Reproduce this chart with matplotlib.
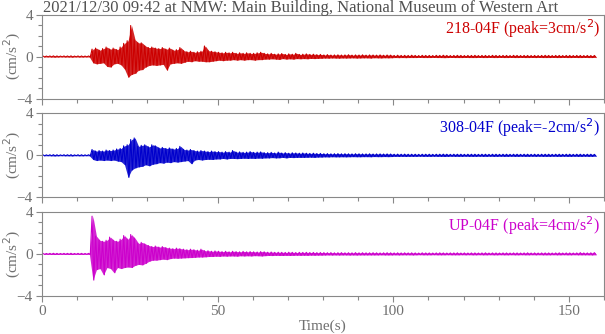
import numpy as np
import matplotlib
matplotlib.use("Agg")
import matplotlib.pyplot as plt
from matplotlib.ticker import MultipleLocator, FixedLocator

plt.rcParams['font.family'] = ['Liberation Serif', 'DejaVu Serif']

title = "2021/12/30 09:42 at NMW: Main Building, National Museum of Western Art"
channels = ["218-04F", "308-04F", "UP-04F"]
peaks = [3, -2, 4]
colors = ["#cc0000", "#0000cc", "#cc00cc"]

# Per-second envelope (max / min), t = 0..158 s
pre = [0.05, 0.04, 0.05, 0.06, 0.05, 0.04, 0.05, 0.05, 0.06, 0.04, 0.05, 0.05, 0.04, 0.05]
pre_n = [-v for v in pre]

red_max = pre + [
    0.7, 0.8, 0.6, 0.75, 0.9, 0.7, 0.8, 0.65, 0.9, 1.25,
    1.5, 2.95, 1.6, 1.3, 1.3, 1.0, 0.85, 0.9, 0.8, 0.75,
    0.85, 0.7, 0.8, 0.6, 0.65, 0.85, 0.55, 0.45, 0.5, 0.4,
    0.45, 0.5, 1.0, 0.55, 0.5, 0.45, 0.4, 0.35, 0.4, 0.35,
    0.4, 0.3, 0.35, 0.3, 0.35, 0.3, 0.3, 0.35, 0.4, 0.3,
    0.25, 0.3, 0.22, 0.25, 0.28, 0.2, 0.25, 0.22, 0.3, 0.2,
    0.22, 0.25, 0.2, 0.22, 0.18, 0.2,
    0.15, 0.18, 0.14, 0.15, 0.16, 0.14, 0.15, 0.17, 0.13, 0.15,
    0.14, 0.16, 0.13, 0.15, 0.14, 0.13, 0.15, 0.12, 0.14, 0.13,
    0.1, 0.12, 0.1, 0.11, 0.1, 0.12, 0.1, 0.09, 0.11, 0.1,
    0.1, 0.09, 0.11, 0.1, 0.12, 0.1, 0.09, 0.1, 0.11, 0.1,
    0.09, 0.1, 0.1, 0.11, 0.09, 0.1, 0.1, 0.09, 0.11, 0.1,
    0.09, 0.1, 0.1, 0.09, 0.11, 0.1, 0.09, 0.1, 0.1, 0.09,
    0.1, 0.09, 0.1, 0.11, 0.1, 0.09, 0.1, 0.1, 0.09, 0.1,
    0.1, 0.09, 0.1, 0.1, 0.09, 0.1, 0.09, 0.1]
red_min = pre_n + [
    -0.6, -0.7, -0.65, -0.6, -0.95, -1.0, -0.7, -0.65, -0.8, -1.2,
    -1.97, -1.7, -1.6, -1.3, -1.25, -1.0, -0.85, -0.8, -0.85, -0.8,
    -0.75, -1.3, -0.7, -0.65, -0.6, -0.65, -0.55, -0.45, -0.5, -0.4,
    -0.45, -0.45, -0.5, -0.5, -0.45, -0.4, -0.35, -0.4, -0.35, -0.35,
    -0.3, -0.35, -0.3, -0.35, -0.3, -0.3, -0.35, -0.3, -0.3, -0.25,
    -0.25, -0.22, -0.25, -0.28, -0.2, -0.25, -0.22, -0.25, -0.2, -0.22,
    -0.2, -0.22, -0.18, -0.2, -0.18, -0.17,
    -0.15, -0.16, -0.14, -0.15, -0.16, -0.14, -0.15, -0.14, -0.13, -0.15,
    -0.14, -0.13, -0.13, -0.15, -0.12, -0.13, -0.14, -0.12, -0.13, -0.12,
    -0.1, -0.11, -0.1, -0.11, -0.1, -0.1, -0.1, -0.09, -0.1, -0.1,
    -0.1, -0.09, -0.1, -0.1, -0.11, -0.1, -0.09, -0.1, -0.1, -0.1,
    -0.09, -0.1, -0.1, -0.1, -0.09, -0.1, -0.1, -0.09, -0.1, -0.1,
    -0.09, -0.1, -0.1, -0.09, -0.1, -0.1, -0.09, -0.1, -0.1, -0.09,
    -0.1, -0.09, -0.1, -0.1, -0.1, -0.09, -0.1, -0.1, -0.09, -0.1,
    -0.1, -0.09, -0.1, -0.1, -0.09, -0.1, -0.1, -0.09]

blue_max = pre + [
    0.55, 0.4, 0.45, 0.4, 0.5, 0.45, 0.5, 0.6, 0.65, 0.9,
    1.0, 1.5, 1.65, 0.85, 0.95, 1.0, 0.8, 1.0, 0.9, 0.7,
    0.75, 0.65, 0.7, 0.6, 0.65, 0.85, 0.55, 0.5, 0.55, 0.45,
    0.4, 0.45, 0.4, 0.35, 0.4, 0.35, 0.35, 0.3, 0.35, 0.3,
    0.45, 0.3, 0.32, 0.28, 0.3, 0.35, 0.28, 0.3, 0.32, 0.25,
    0.25, 0.28, 0.22, 0.3, 0.22, 0.25, 0.2, 0.24, 0.22, 0.2,
    0.22, 0.2, 0.18, 0.2, 0.17, 0.18,
    0.15, 0.16, 0.14, 0.15, 0.16, 0.14, 0.15, 0.14, 0.13, 0.15,
    0.14, 0.13, 0.13, 0.14, 0.12, 0.13, 0.13, 0.12, 0.13, 0.12,
    0.1, 0.11, 0.1, 0.11, 0.1, 0.1, 0.1, 0.09, 0.1, 0.1,
    0.1, 0.09, 0.1, 0.1, 0.11, 0.1, 0.09, 0.1, 0.1, 0.1,
    0.09, 0.1, 0.1, 0.1, 0.09, 0.1, 0.1, 0.09, 0.1, 0.1,
    0.09, 0.1, 0.1, 0.09, 0.1, 0.1, 0.09, 0.1, 0.1, 0.09,
    0.1, 0.09, 0.1, 0.1, 0.1, 0.09, 0.1, 0.1, 0.09, 0.1,
    0.1, 0.09, 0.1, 0.1, 0.09, 0.1, 0.1, 0.09]
blue_min = pre_n + [
    -0.4, -0.5, -0.45, -0.5, -0.45, -0.5, -0.45, -0.55, -0.6, -0.9,
    -2.1, -1.4, -1.2, -1.1, -1.05, -0.9, -1.0, -0.85, -0.8, -0.7,
    -0.75, -0.65, -0.7, -0.6, -0.65, -0.6, -0.55, -0.5, -0.8, -0.45,
    -0.4, -0.45, -0.4, -0.38, -0.4, -0.35, -0.35, -0.3, -0.35, -0.3,
    -0.3, -0.32, -0.3, -0.28, -0.3, -0.28, -0.3, -0.27, -0.28, -0.25,
    -0.25, -0.22, -0.25, -0.24, -0.2, -0.25, -0.2, -0.22, -0.2, -0.2,
    -0.2, -0.19, -0.18, -0.2, -0.17, -0.17,
    -0.15, -0.16, -0.14, -0.15, -0.15, -0.14, -0.15, -0.14, -0.13, -0.14,
    -0.14, -0.13, -0.13, -0.14, -0.12, -0.13, -0.13, -0.12, -0.13, -0.12,
    -0.1, -0.11, -0.1, -0.11, -0.1, -0.1, -0.1, -0.09, -0.1, -0.1,
    -0.1, -0.09, -0.1, -0.1, -0.11, -0.1, -0.09, -0.1, -0.1, -0.1,
    -0.09, -0.1, -0.1, -0.1, -0.09, -0.1, -0.1, -0.09, -0.1, -0.1,
    -0.09, -0.1, -0.1, -0.09, -0.1, -0.1, -0.09, -0.1, -0.1, -0.09,
    -0.1, -0.09, -0.1, -0.1, -0.1, -0.09, -0.1, -0.1, -0.09, -0.1,
    -0.1, -0.09, -0.1, -0.1, -0.09, -0.1, -0.1, -0.09]

mag_max = pre + [
    3.6, 1.7, 1.3, 1.2, 1.3, 1.6, 1.3, 1.2, 1.4, 1.75,
    1.4, 1.85, 1.5, 1.0, 1.1, 0.95, 0.8, 0.7, 0.75, 0.65,
    0.7, 0.6, 0.55, 0.5, 0.55, 0.5, 0.45, 0.4, 0.45, 0.4,
    0.35, 0.45, 0.3, 0.3, 0.25, 0.28, 0.25, 0.22, 0.25, 0.2,
    0.25, 0.22, 0.2, 0.24, 0.2, 0.22, 0.2, 0.18, 0.22, 0.2,
    0.16, 0.18, 0.15, 0.16, 0.15, 0.14, 0.16, 0.15, 0.13, 0.15,
    0.14, 0.15, 0.13, 0.14, 0.12, 0.13,
    0.12, 0.11, 0.12, 0.1, 0.11, 0.12, 0.1, 0.11, 0.1, 0.12,
    0.1, 0.11, 0.1, 0.1, 0.11, 0.1, 0.09, 0.1, 0.11, 0.1,
    0.09, 0.1, 0.09, 0.1, 0.09, 0.1, 0.09, 0.08, 0.1, 0.09,
    0.09, 0.08, 0.09, 0.1, 0.09, 0.08, 0.09, 0.09, 0.1, 0.08,
    0.09, 0.08, 0.09, 0.09, 0.08, 0.09, 0.1, 0.08, 0.09, 0.09,
    0.08, 0.09, 0.09, 0.08, 0.09, 0.09, 0.08, 0.09, 0.1, 0.08,
    0.09, 0.08, 0.09, 0.09, 0.09, 0.08, 0.09, 0.1, 0.08, 0.09,
    0.09, 0.08, 0.09, 0.12, 0.09, 0.09, 0.1, 0.12]
mag_min = pre_n + [
    -2.5, -1.5, -1.4, -2.0, -1.3, -1.4, -1.8, -1.3, -1.4, -1.3,
    -1.25, -1.3, -1.1, -1.0, -1.05, -0.9, -0.7, -0.6, -0.6, -0.55,
    -0.5, -0.55, -0.45, -0.4, -0.42, -0.4, -0.38, -0.36, -0.35, -0.33,
    -0.3, -0.3, -0.28, -0.25, -0.25, -0.22, -0.24, -0.2, -0.22, -0.2,
    -0.2, -0.22, -0.18, -0.2, -0.18, -0.2, -0.17, -0.18, -0.2, -0.17,
    -0.15, -0.16, -0.14, -0.15, -0.15, -0.14, -0.15, -0.14, -0.13, -0.14,
    -0.13, -0.14, -0.12, -0.13, -0.12, -0.12,
    -0.11, -0.1, -0.11, -0.1, -0.11, -0.1, -0.1, -0.11, -0.1, -0.11,
    -0.1, -0.1, -0.1, -0.1, -0.1, -0.1, -0.09, -0.1, -0.1, -0.1,
    -0.09, -0.1, -0.09, -0.09, -0.09, -0.1, -0.09, -0.08, -0.09, -0.09,
    -0.09, -0.08, -0.09, -0.09, -0.09, -0.08, -0.09, -0.09, -0.09, -0.08,
    -0.09, -0.08, -0.09, -0.09, -0.08, -0.09, -0.09, -0.08, -0.09, -0.09,
    -0.08, -0.09, -0.09, -0.08, -0.09, -0.09, -0.08, -0.09, -0.09, -0.08,
    -0.09, -0.08, -0.09, -0.09, -0.09, -0.08, -0.09, -0.09, -0.08, -0.09,
    -0.09, -0.08, -0.09, -0.09, -0.09, -0.09, -0.1, -0.09]

envelopes = [(red_max, red_min), (blue_max, blue_min), (mag_max, mag_min)]

W, H = 605, 334
fig = plt.figure(figsize=(W / 100, H / 100), dpi=100)

gray = "#888888"
txtgray = "#707070"
panels = [(14.5, 98.5), (113.3, 197.3), (212.0, 295.8)]

axes = []
for i, ((top, bot), (vmax, vmin)) in enumerate(zip(panels, envelopes)):
    ax = fig.add_axes([42 / W, 1 - bot / H, 562 / W, (bot - top) / H])
    axes.append(ax)
    n = min(len(vmax), len(vmin))
    t = np.arange(n, dtype=float)
    lo = np.array(vmin[:n])
    hi = np.array(vmax[:n])
    # solid core between the per-second extremes
    ax.fill_between(t + 0.5, lo, hi, color=colors[i], lw=0, alpha=0.85)
    # trace swinging from each second's maximum to its minimum
    xs = np.empty(2 * n)
    ys = np.empty(2 * n)
    xs[0::2] = t + 0.25
    xs[1::2] = t + 0.75
    ys[0::2] = hi
    ys[1::2] = lo
    ax.plot(xs, ys, color=colors[i], lw=0.8)
    ax.set_xlim(0, 160)
    ax.set_ylim(-4, 4)
    ax.xaxis.set_major_locator(FixedLocator([0, 50, 100, 150]))
    ax.xaxis.set_minor_locator(MultipleLocator(10))
    ax.yaxis.set_major_locator(FixedLocator([-4, 0, 4]))
    ax.yaxis.set_minor_locator(MultipleLocator(1))
    ax.tick_params(which='major', direction='out', length=4.5, width=0.8,
                   color=gray, labelcolor=txtgray, labelsize=11, pad=2)
    ax.tick_params(which='minor', direction='out', length=3, width=0.8, color=gray)
    for s in ax.spines.values():
        s.set_color(gray)
        s.set_linewidth(0.8)
    ax.set_ylabel("(cm/s$^2$)", color=txtgray, fontsize=11, va='center', ha='center')
    ax.yaxis.set_label_coords(-0.052, 0.5)
    if i < 2:
        ax.tick_params(axis='x', labelbottom=False)
    ax.text(0.993, 0.97, f"{channels[i]} (peak={peaks[i]}cm/s$^2$)",
            transform=ax.transAxes, ha='right', va='top',
            color=colors[i], fontsize=11.5)

axes[-1].set_xlabel("Time(s)", color=txtgray, fontsize=11, labelpad=1)
fig.text(43 / W, 1 - 0.5 / H, title, ha='left', va='top', color="#505050", fontsize=12)

fig.savefig("out.png", dpi=100)
